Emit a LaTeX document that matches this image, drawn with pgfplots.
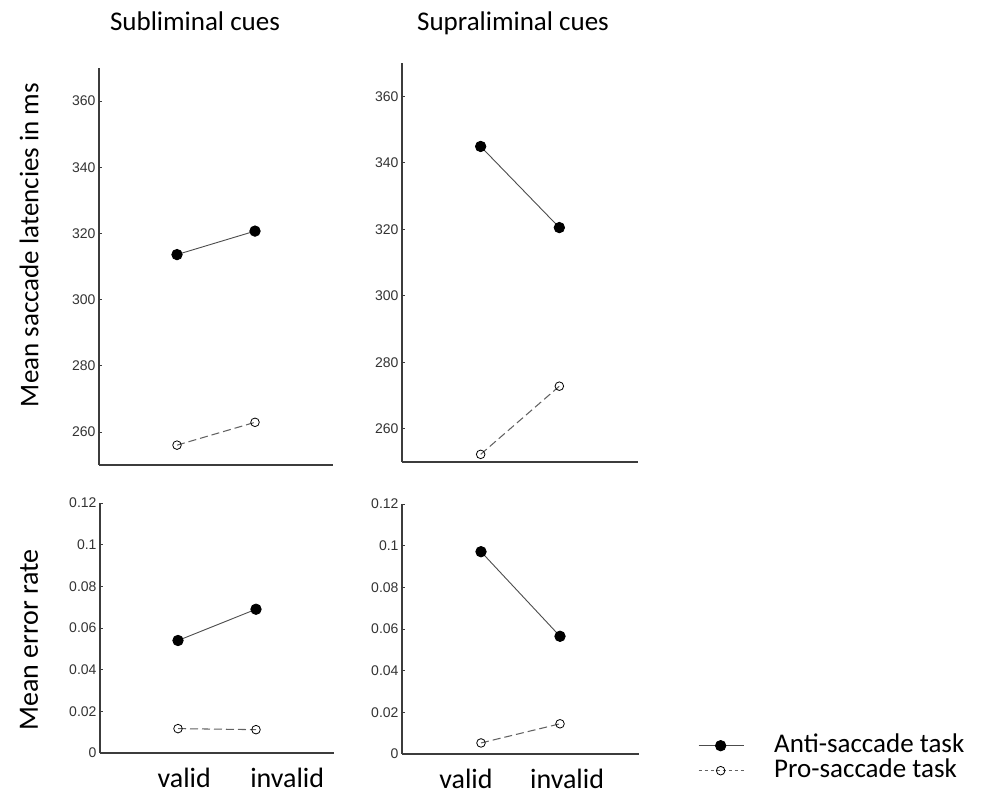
\documentclass[border=0pt]{standalone}
\usepackage{fontspec}
\setmainfont{Carlito}
\newfontfamily\arialf{Liberation Sans}
\usepackage{pgfplots}
\pgfplotsset{compat=1.18}
\definecolor{axgray}{HTML}{3C3C3C}
\definecolor{tickgray}{HTML}{333333}
\pgfplotsset{
  antileg/.style={legend image code/.code={\draw[mark repeat=2,mark phase=2,##1] plot coordinates {(0pt,0pt) (22pt,0pt) (45pt,0pt)};}},
  proleg/.style={legend image code/.code={\draw[mark repeat=2,mark phase=2,##1,dash pattern=on 3pt off 3pt] plot coordinates {(0pt,0pt) (22pt,0pt) (45pt,0pt)};}},
  panel/.style={
    scale only axis, axis lines=left,
    axis line style={-, axgray, line width=1.3pt},
    xmin=0, xmax=3,
    tick align=inside, major tick length=3pt,
    ytick style={axgray, line width=0.8pt},
    xtick style={draw=none},
    /pgf/number format/assume math mode=true,
    yticklabel style={font=\arialf\fontsize{14}{14}\selectfont, text=tickgray},
    xticklabel style={font=\fontsize{28}{28}\selectfont, text=black, yshift=-12pt},
    clip=false,
  },
  anti/.style={color=black!70, line width=0.9pt, mark=*, mark size=5.2pt,
    mark options={solid, fill=black, draw=black}},
  pro/.style={color=black!62, line width=1.05pt, dash pattern=on 8pt off 4pt, mark=o, mark size=4.3pt,
    mark options={solid, fill=white, draw=black, line width=0.8pt}},
}
\begin{document}
\begin{tikzpicture}
\path (0pt,0pt) rectangle (987pt,797pt);
% top-left
\begin{axis}[panel, at={(99pt,332pt)}, anchor=south west, width=234pt, height=397pt,
  ymin=250, ymax=370, ytick={260,280,...,360}, xtick=\empty]
\addplot[anti] coordinates {(1,313.6) (2,320.7)};
\addplot[pro] coordinates {(1,256.0) (2,262.9)};
\end{axis}
% top-right
\begin{axis}[panel, at={(402pt,335pt)}, anchor=south west, width=236pt, height=399pt,
  ymin=250, ymax=370, ytick={260,280,...,360}, xtick=\empty]
\addplot[anti] coordinates {(1,344.9) (2,320.5)};
\addplot[pro] coordinates {(1,252.3) (2,272.8)};
\end{axis}
% bottom-left
\begin{axis}[panel, at={(100pt,44pt)}, anchor=south west, width=234pt, height=250pt,
  ymin=0, ymax=0.12, ytick={0,0.02,0.04,0.06,0.08,0.1,0.12},
  yticklabels={0,0.02,0.04,0.06,0.08,0.1,0.12},
  xtick={1.08,2.40}, xticklabels={valid,invalid}]
\addplot[anti] coordinates {(1,0.0540) (2,0.0690)};
\addplot[pro] coordinates {(1,0.0117) (2,0.0112)};
\end{axis}
% bottom-right
\begin{axis}[panel, at={(402pt,43pt)}, anchor=south west, width=237pt, height=250pt,
  ymin=0, ymax=0.12, ytick={0,0.02,0.04,0.06,0.08,0.1,0.12},
  yticklabels={0,0.02,0.04,0.06,0.08,0.1,0.12},
  xtick={0.81,2.09}, xticklabels={valid,invalid},
  legend style={draw=none, fill=none, at={(1.236,0.088)}, anchor=north west,
    font=\fontsize{27}{27}\selectfont, row sep=2pt,
    nodes={inner sep=0pt, text height=18pt, text depth=5pt},
    /tikz/every odd column/.append style={column sep=30pt}},
  legend cell align=left]
\addplot[anti, antileg] coordinates {(1,0.0971) (2,0.0565)};
\addlegendentry{Anti-saccade task}
\addplot[pro, proleg] coordinates {(1,0.0053) (2,0.0145)};
\addlegendentry{Pro-saccade task}
\end{axis}
% titles and y labels
\node[font=\fontsize{27}{27}\selectfont, anchor=base] at (195pt,766pt) {Subliminal cues};
\node[font=\fontsize{27}{27}\selectfont, anchor=base] at (513pt,766pt) {Supraliminal cues};
\node[font=\fontsize{27}{27}\selectfont, rotate=90] at (29pt,552pt) {Mean saccade latencies in ms};
\node[font=\fontsize{28}{28}\selectfont, rotate=90] at (29pt,157pt) {Mean error rate};
\end{tikzpicture}
\end{document}
